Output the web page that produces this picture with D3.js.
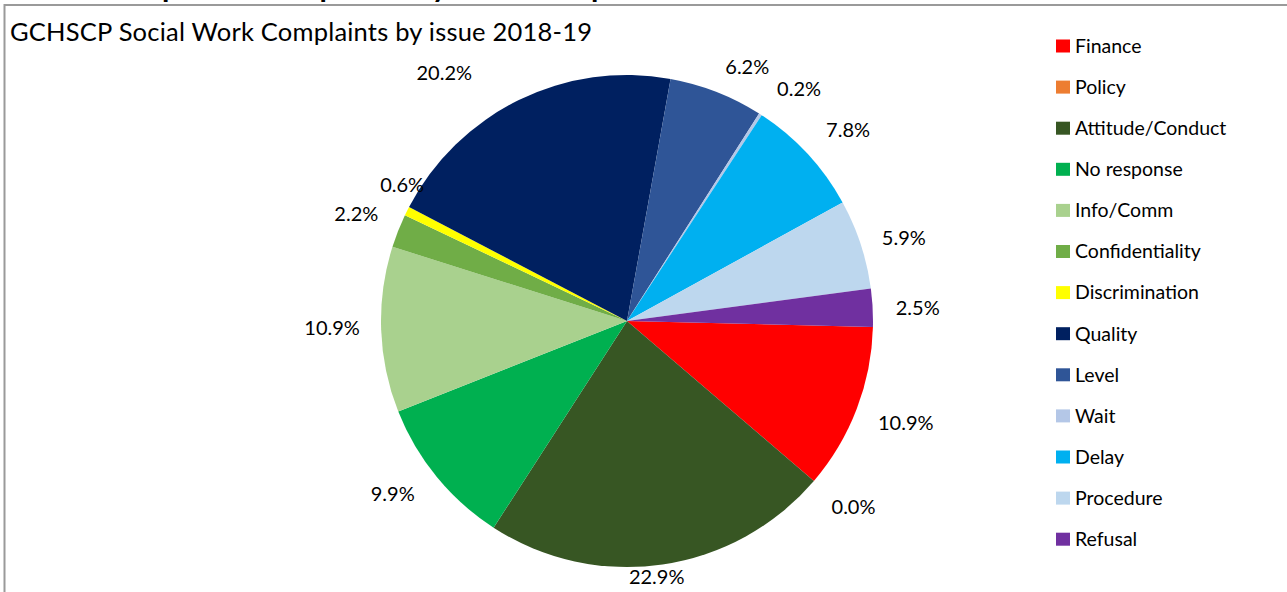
<!DOCTYPE html>
<html>
<head>
<meta charset="utf-8">
<script src="https://cdn.jsdelivr.net/npm/d3@7"></script>
<style>
  body { margin: 0; background: #fff; }
  svg { display: block; font-family: Lato, 'Open Sans', sans-serif; }
</style>
</head>
<body>
<svg width="1287" height="592"></svg>
<script>
var width = 1287;
var height = 592;

var issues = ['Finance', 'Policy', 'Attitude/Conduct', 'No response', 'Info/Comm',
  'Confidentiality', 'Discrimination', 'Quality', 'Level', 'Wait', 'Delay',
  'Procedure', 'Refusal'];
var shares = [10.9, 0.0, 22.9, 9.9, 10.9, 2.2, 0.6, 20.2, 6.2, 0.2, 7.8, 5.9, 2.5];
var colours = ['#ff0000', '#ed7d31', '#375623', '#00b050', '#a9d18e', '#70ad47',
  '#ffff00', '#002060', '#2f5597', '#b4c7e7', '#00b0f0', '#bdd7ee', '#7030a0'];

// excel's best fit moves some labels: angle shift in degrees, radius of the label centre
var labelNudge = {
  'Finance': [-0.8, 297],
  'Policy': [-1.2, 293],
  'Attitude/Conduct': [1.7, 258],
  'No response': [3, 291],
  'Info/Comm': [0.6, 295],
  'Discrimination': [4.7, 263],
  'Quality': [-10.3, 308],
  'Level': [4, 281],
  'Wait': [3.7, 289],
  'Delay': [2, 292],
  'Procedure': [1.5, 289],
  'Refusal': [0.6, 291]
};

var cx = 627, cy = 321, radius = 246;
var labelRadius = 291;
var startAngle = 91.4 * Math.PI / 180;

var data = issues.map(function(d, i) {
  return { issue: d, share: shares[i], colour: colours[i] };
});

var svg = d3.select('svg');

// page heading cut off by the top of the picture
svg.append('text')
  .attr('x', 100)
  .attr('y', -3)
  .style('font-weight', 'bold')
  .style('font-size', '30px')
  .text('Complaints Complaints by Issue Complaints');

// chart border
svg.append('rect')
  .attr('x', 4.5)
  .attr('y', 5)
  .attr('width', width + 10)
  .attr('height', height + 10)
  .attr('fill', 'none')
  .attr('stroke', '#9a9a9a')
  .attr('stroke-width', 2);

svg.append('text')
  .attr('x', 10)
  .attr('y', 41)
  .style('font-size', '25.5px')
  .attr('textLength', 582)
  .attr('fill', '#000')
  .text('GCHSCP Social Work Complaints by issue 2018-19');

var pie = d3.pie()
  .sort(null)
  .value(d => d.share)
  .startAngle(startAngle)
  .endAngle(startAngle + 2 * Math.PI);

var arc = d3.arc()
  .innerRadius(0)
  .outerRadius(radius);

var arcs = pie(data);

var g = svg.append('g')
  .attr('transform', 'translate(' + cx + ',' + cy + ')');

g.selectAll('path')
  .data(arcs)
  .enter()
  .append('path')
  .attr('d', arc)
  .attr('fill', d => d.data.colour);

var fmt = d3.format('.1f');

g.selectAll('text.pct')
  .data(arcs)
  .enter()
  .append('text')
  .attr('class', 'pct')
  .style('font-size', '20px')
  .attr('fill', '#000')
  .attr('text-anchor', 'middle')
  .attr('dy', '0.35em')
  .each(function(d) {
    var n = labelNudge[d.data.issue] || [0, labelRadius];
    var a = (d.startAngle + d.endAngle) / 2 + n[0] * Math.PI / 180;
    d3.select(this)
      .attr('x', n[1] * Math.sin(a))
      .attr('y', -n[1] * Math.cos(a));
  })
  .text(d => fmt(d.data.share) + '%');

// legend
var legend = svg.append('g')
  .attr('transform', 'translate(1056, 46)');

var rows = legend.selectAll('g')
  .data(data)
  .enter()
  .append('g')
  .attr('transform', (d, i) => 'translate(0,' + (i * 41.1) + ')');

rows.append('rect')
  .attr('x', 0)
  .attr('y', -6.5)
  .attr('width', 14)
  .attr('height', 13)
  .attr('fill', d => d.colour);

rows.append('text')
  .attr('x', 19)
  .attr('dy', '0.35em')
  .style('font-size', '19.5px')
  .attr('fill', '#000')
  .text(d => d.issue);
</script>
</body>
</html>
